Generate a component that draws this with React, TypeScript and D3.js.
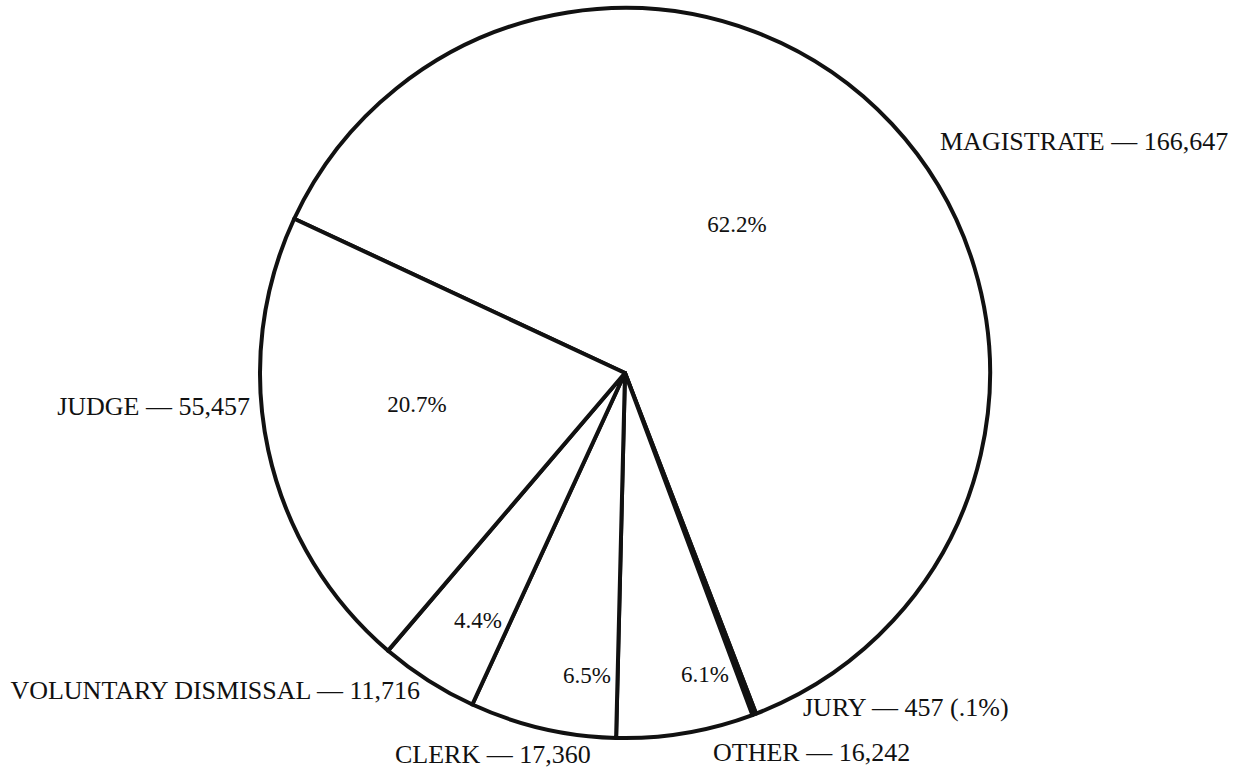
import React from "react";
import * as d3 from "d3";

// Data (clockwise from the MAGISTRATE / JUDGE boundary)
const categories = ["MAGISTRATE", "JURY", "OTHER", "CLERK", "VOLUNTARY DISMISSAL", "JUDGE"];
const counts = [166647, 457, 16242, 17360, 11716, 55457];
const countLabels = ["166,647", "457 (.1%)", "16,242", "17,360", "11,716", "55,457"];
const percentLabels = ["62.2%", "", "6.1%", "6.5%", "4.4%", "20.7%"];

// Layout (annotation positions, not data)
const W = 1236;
const H = 769;
const CX = 625;
const CY = 373;
const R = 365;
const START_DEG = -65;
const outerLabelPos: { x: number; y: number; anchor: "start" | "end" }[] = [
  { x: 940, y: 150, anchor: "start" },
  { x: 803, y: 716, anchor: "start" },
  { x: 713, y: 761, anchor: "start" },
  { x: 395, y: 763, anchor: "start" },
  { x: 420, y: 699, anchor: "end" },
  { x: 250, y: 415, anchor: "end" },
];
const percentLabelPos: { x: number; y: number }[] = [
  { x: 737, y: 232 },
  { x: 0, y: 0 },
  { x: 705, y: 682 },
  { x: 587, y: 683 },
  { x: 478, y: 628 },
  { x: 417, y: 412 },
];

export default function App() {
  const start = (START_DEG * Math.PI) / 180;
  const pie = d3
    .pie<number>()
    .sort(null)
    .value((d) => d)
    .startAngle(start)
    .endAngle(start + 2 * Math.PI);
  const arcs = pie(counts);
  const arc = d3.arc<d3.PieArcDatum<number>>().innerRadius(0).outerRadius(R);
  const font = "'Liberation Serif', 'Times New Roman', serif";

  return (
    <svg
      width={W}
      height={H}
      style={{ position: "absolute", left: 0, top: 0, background: "#fff" }}
    >
      <rect x={0} y={0} width={W} height={H} fill="#fff" />
      <g transform={`translate(${CX},${CY})`}>
        {arcs.map((a, i) => (
          <path
            key={categories[i]}
            d={arc(a) || ""}
            fill="#fff"
            stroke="#111"
            strokeWidth={4}
            strokeLinejoin="round"
          />
        ))}
      </g>
      {categories.map((c, i) =>
        percentLabels[i] ? (
          <text
            key={"p" + c}
            x={percentLabelPos[i].x}
            y={percentLabelPos[i].y}
            textAnchor="middle"
            fontFamily={font}
            fontSize={23}
            fill="#111"
          >
            {percentLabels[i]}
          </text>
        ) : null
      )}
      {categories.map((c, i) => (
        <text
          key={"o" + c}
          x={outerLabelPos[i].x}
          y={outerLabelPos[i].y}
          textAnchor={outerLabelPos[i].anchor}
          fontFamily={font}
          fontSize={26}
          fill="#111"
        >
          {`${c} \u2014 ${countLabels[i]}`}
        </text>
      ))}
    </svg>
  );
}
